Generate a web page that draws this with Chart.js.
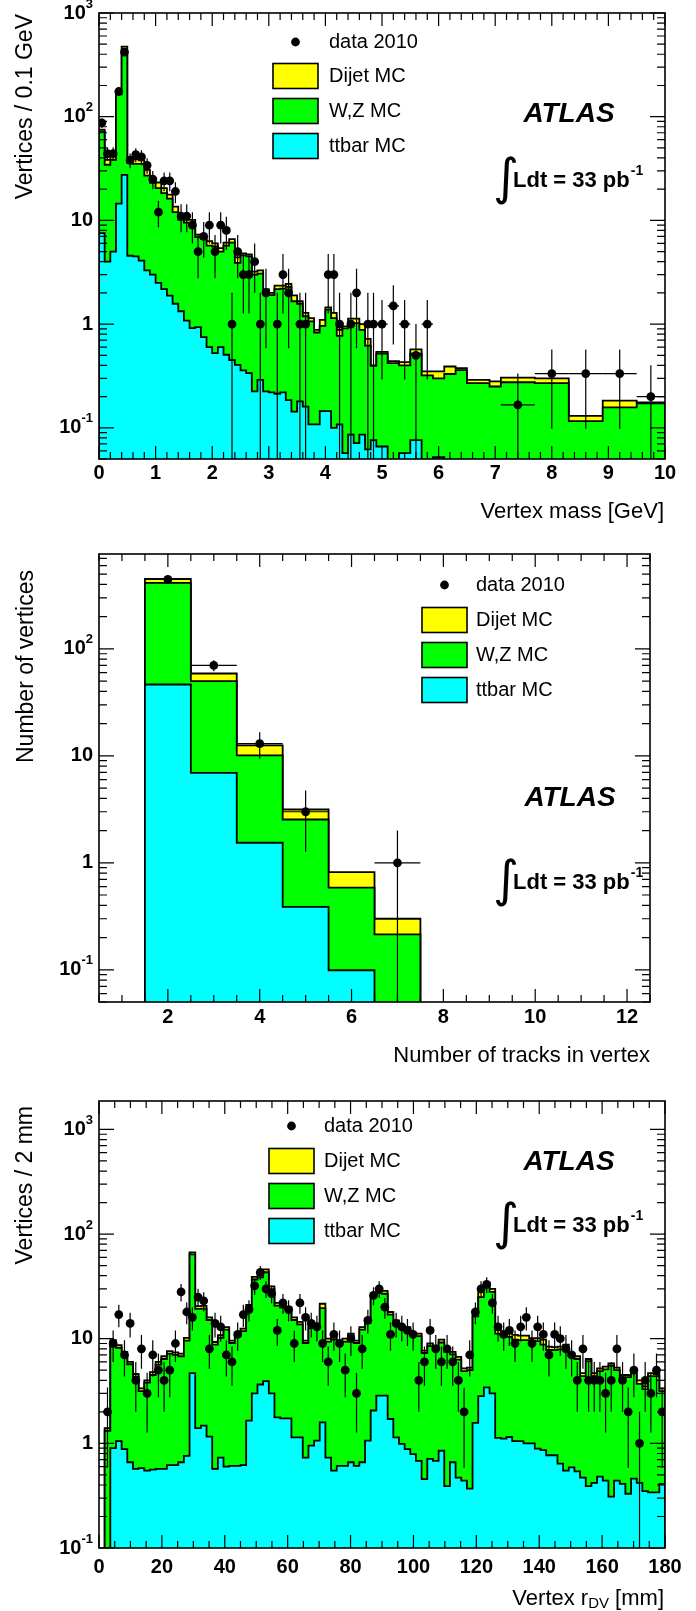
<!DOCTYPE html>
<html>
<head>
<meta charset="utf-8">
<script src="https://cdn.jsdelivr.net/npm/chart.js@4.4.1/dist/chart.umd.min.js"></script>
<style>
  html, body { margin: 0; padding: 0; background: #fff; }
  #page { position: relative; width: 696px; height: 1611px; overflow: hidden; }
  canvas { position: absolute; left: 0; }
</style>
</head>
<body>
<div id="page">
  <canvas id="massChart" width="696" height="540" style="top:0"></canvas>
  <canvas id="trackChart" width="696" height="560" style="top:520px"></canvas>
  <canvas id="rdvChart" width="696" height="531" style="top:1080px"></canvas>
</div>
<script>
// ---------- vertex mass (per 0.1 GeV) ----------
const massEdges = [0, 0.1, 0.2, 0.3, 0.4, 0.5, 0.6, 0.7, 0.8, 0.9,
  1.0, 1.1, 1.2, 1.3, 1.4, 1.5, 1.6, 1.7, 1.8, 1.9,
  2.0, 2.1, 2.2, 2.3, 2.4, 2.5, 2.6, 2.7, 2.8, 2.9,
  3.0, 3.1, 3.2, 3.3, 3.4, 3.5, 3.6, 3.7, 3.8, 3.9,
  4.0, 4.1, 4.2, 4.3, 4.4, 4.5, 4.6, 4.7, 4.8, 4.9,
  5.1, 5.3, 5.5, 5.7, 5.9, 6.1, 6.3, 6.5, 6.9, 7.1, 7.7, 8.3, 8.9, 9.5, 10];
const massTotalMC = [75, 38.3, 42, 172, 475, 39, 39, 38, 30.7, 25.6,
  23.2, 20.5, 17.7, 13.6, 10.5, 10.1, 10.1, 7.3, 7.0, 6.3,
  6.0, 5.4, 6.1, 6.6, 4.4, 4.8, 4.7, 3.2, 3.3, 2.17,
  2.0, 2.35, 2.35, 2.44, 1.89, 1.66, 1.28, 1.14, 0.88, 1.10,
  1.45, 1.28, 0.88, 0.95, 1.13, 1.13, 1.0, 0.72, 0.40,
  0.54, 0.44, 0.43, 0.57, 0.35, 0.35, 0.39, 0.375, 0.29, 0.28, 0.305, 0.30, 0.13, 0.183, 0.176];
const massDijet = [3, 3.9, 3.7, 8, 65, 3.3, 4, 3, 3.7, 2.6,
  2.7, 2.2, 1.5, 1.6, 0.4, 0.6, 0.6, 0.4, 0.4, 0.6,
  0.4, 0.4, 0.4, 0.5, 0.5, 0.2, 0.2, 0.2, 0.24, 0.07,
  0.1, 0.18, 0.15, 0.16, 0.23, 0.09, 0.09, 0.08, 0.05, 0.14,
  0.07, 0.14, 0.11, 0.04, 0.11, 0.11, 0.12, 0.1, 0.005,
  0.02, 0.02, 0.03, 0.05, 0.03, 0.05, 0.06, 0.015, 0.02, 0.03, 0.03, 0.03, 0.014, 0.026, 0.004];
const massTtbar = [7.55, 4.0, 5.0, 14.5, 27.5, 4.56, 4.5, 4.1, 3.3, 3.0,
  2.5, 2.17, 1.88, 1.57, 1.33, 1.08, 0.915, 0.935, 0.75, 0.6,
  0.525, 0.6, 0.506, 0.45, 0.405, 0.357, 0.337, 0.224, 0.29, 0.224,
  0.22, 0.213, 0.22, 0.185, 0.143, 0.18, 0.16, 0.108, 0.108, 0.145,
  0.145, 0.1, 0.108, 0.057, 0.086, 0.071, 0.086, 0.062, 0.076,
  0.066, 0, 0.057, 0.076, 0, 0.052, 0, 0, 0, 0, 0, 0, 0, 0, 0];
const massCounts = [87, 44, 44, 175, 420, 38, 43, 41, 34, 25,
  12, 24, 24, 19, 11, 11, 9, 5, 7, 9,
  5, 9, 8, 1, 5, 3, 3, 4, 1, 2,
  0, 1, 3, 2, 0, 1, 1, 0, 0, 0,
  3, 3, 1, 0, 1, 2, 0, 1, 1,
  2, 3, 2, 1, 2, 0, 0, 0, 0, 0, 1, 2, 2, 2, 1];

// ---------- number of tracks ----------
const trackEdges = [1.5, 2.5, 3.5, 4.5, 5.5, 6.5, 7.5];
const trackTotalMC = [451, 58.8, 12.5, 3.15, 0.82, 0.30];
const trackDijet = [37, 8.9, 2.4, 0.61, 0.235, 0.086];
const trackTtbar = [46.4, 6.93, 1.54, 0.388, 0.099, 0];
const trackCounts = [445, 70, 13, 3, 0, 1];

// ---------- vertex r_DV (100 bins, 0-180 mm) ----------
const rdvBinWidth = 1.8;
const rdvTotalMC = [0, 1.4, 9.7, 8.7, 7.5, 6.0, 4.6, 3.35, 4.0, 4.8,
  6.0, 6.8, 7.6, 7.4, 7.2, 10.2, 67, 20.5, 20.6, 16,
  9.3, 10.8, 12.9, 9.6, 11.3, 12.5, 21, 39, 41, 46,
  31.6, 22, 21, 20, 16, 14.5, 9.6, 13.4, 14, 21.6,
  10, 10.4, 9.6, 10, 11.2, 9.6, 12.9, 15, 27, 29,
  28.6, 18, 15, 13.4, 12.9, 11.2, 11.2, 7.7, 9, 8.6,
  9.8, 8, 7.5, 6.7, 5.2, 5.3, 18.8, 30, 34.3, 30,
  13.6, 11.7, 11.3, 10.9, 10.7, 10.7, 10.1, 10.1, 9.8, 8.4,
  8.3, 8.4, 8.8, 7.3, 6.8, 4.7, 6.4, 4.7, 5.2, 5.4,
  5.8, 5.3, 4.5, 4.5, 5.2, 4.0, 3.5, 4.7, 4.6, 3.35];
const rdvDijet = [0, 0.08, 0.5, 0.5, 0.4, 0.3, 0.25, 0.2, 0.2, 0.3,
  0.35, 0.4, 0.4, 0.4, 0.4, 0.6, 3, 1.2, 1.2, 0.9,
  0.5, 0.6, 0.7, 0.5, 0.6, 0.7, 1.2, 2.2, 2.4, 2.8,
  1.8, 1.3, 1.2, 1.1, 0.9, 0.8, 0.5, 0.8, 0.8, 2.0,
  0.6, 0.6, 0.5, 0.6, 0.6, 0.5, 0.7, 0.9, 1.6, 1.7,
  1.7, 1.0, 0.9, 0.8, 0.7, 0.6, 0.6, 0.4, 0.5, 0.5,
  0.6, 0.5, 0.4, 0.4, 0.3, 0.3, 2.4, 5, 2.5, 2,
  2.4, 1.2, 0.9, 1.1, 1.0, 1.0, 0.5, 0.6, 1.0, 0.6,
  0.5, 0.5, 0.6, 0.4, 0.4, 0.3, 0.3, 0.3, 0.3, 0.3,
  0.3, 0.3, 0.25, 0.2, 0.3, 0.3, 0.2, 0.3, 0.2, 0.2];
const rdvTtbar = [0, 0.1, 0.9, 1.05, 0.88, 0.66, 0.57, 0.58, 0.55, 0.56,
  0.57, 0.57, 0.62, 0.62, 0.66, 0.76, 4.7, 1.4, 1.48, 1.16,
  0.57, 0.73, 0.6, 0.61, 0.61, 0.62, 1.65, 3.0, 3.65, 3.93,
  3.0, 1.77, 1.73, 1.73, 1.14, 1.14, 0.73, 0.95, 1.06, 1.59,
  0.73, 0.55, 0.61, 0.61, 0.66, 0.61, 0.66, 1.06, 2.06, 2.86,
  2.86, 1.71, 1.14, 0.99, 0.88, 0.79, 0.68, 0.455, 0.71, 0.68,
  0.85, 0.39, 0.66, 0.47, 0.44, 0.37, 1.57, 2.83, 3.43, 3.0,
  1.13, 1.11, 1.15, 1.05, 1.05, 1.0, 1.0, 0.89, 0.86, 0.77,
  0.77, 0.64, 0.55, 0.59, 0.54, 0.47, 0.39, 0.42, 0.48, 0.44,
  0.31, 0.44, 0.41, 0.33, 0.46, 0.42, 0.35, 0.34, 0.34, 0.41];
const rdvCounts = [0, 2, 9, 17, 7, 14, 4, 8, 3, 7,
  5, 4, 5, 9, 28, 18, 16, 25, 23, 8,
  14, 13, 7, 6, 11, 17, 19, 32, 43, 30,
  27, 12, 22, 19, 9, 22, 16, 14, 13, 9,
  6, 11, 9, 5, 10, 3, 8, 15, 26, 30,
  20, 11, 14, 13, 12, 11, 4, 6, 12, 8,
  6, 8, 6, 4, 2, 7, 18, 30, 33, 22,
  13, 11, 12, 9, 13, 16, 9, 13, 11, 7,
  11, 10, 8, 7, 4, 8, 4, 4, 4, 3,
  4, 8, 4, 2, 5, 1, 4, 3, 5, 2];
const rdvEdges = rdvTotalMC.map((v, i) => i * rdvBinWidth).concat([180]);

// ---------- helpers ----------
const FONT = '"Liberation Sans", Helvetica, Arial, sans-serif';
const FLOOR = 1e-4;

function steps(edges, vals) {
  const n = vals.length;
  const pts = [{ x: edges[0], y: FLOOR }];
  for (let i = 0; i < n; i++) pts.push({ x: edges[i], y: vals[i] > 0 ? vals[i] : FLOOR });
  pts.push({ x: edges[n], y: vals[n - 1] > 0 ? vals[n - 1] : FLOOR });
  pts.push({ x: edges[n], y: FLOOR });
  return pts;
}

function histSet(edges, vals, color, order) {
  return {
    type: 'line', data: steps(edges, vals), stepped: 'before',
    borderColor: '#000', borderWidth: 1.8, backgroundColor: color,
    fill: 'start', pointRadius: 0, order: order
  };
}

function dataSet(edges, counts, perWidth) {
  const pts = [], err = [], xh = [];
  counts.forEach((n, i) => {
    if (n <= 0) return;
    const w = edges[i + 1] - edges[i];
    const f = perWidth ? perWidth / w : 1;
    pts.push({ x: (edges[i] + edges[i + 1]) / 2, y: n * f });
    err.push(Math.sqrt(n) * f);
    xh.push(w / 2);
  });
  return {
    type: 'line', showLine: false, data: pts, yErr: err, xHalf: xh,
    pointRadius: 4.4, pointBackgroundColor: '#000', pointBorderWidth: 0, order: 0
  };
}

function drawPow(ctx, v, xr, y) {
  const e = Math.round(Math.log10(v));
  ctx.fillStyle = '#000';
  ctx.textAlign = 'right';
  ctx.textBaseline = 'middle';
  if (e === 0 || e === 1) {
    ctx.font = 'bold 20px ' + FONT;
    ctx.fillText(e === 0 ? '1' : '10', xr, y);
    return;
  }
  ctx.font = 'bold 13px ' + FONT;
  const sup = String(e);
  const ws = ctx.measureText(sup).width;
  ctx.fillText(sup, xr, y - 9);
  ctx.font = 'bold 20px ' + FONT;
  ctx.fillText('10', xr - ws, y);
}

function rootStyle(cfg) {
  return {
    id: 'rootStyle',
    beforeDatasetDraw(chart, args) {
      const ds = chart.data.datasets[args.index];
      if (!ds.yErr) return;
      const { ctx, chartArea: a } = chart;
      const x = chart.scales.x, y = chart.scales.y;
      ctx.save();
      ctx.beginPath();
      ctx.rect(a.left, a.top, a.right - a.left, a.bottom - a.top);
      ctx.clip();
      ctx.strokeStyle = '#000';
      ctx.lineWidth = 1.2;
      ds.data.forEach((p, i) => {
        const px = x.getPixelForValue(p.x), py = y.getPixelForValue(p.y);
        const lo = p.y - ds.yErr[i];
        const yLo = lo > 0 ? y.getPixelForValue(lo) : a.bottom;
        const yHi = y.getPixelForValue(p.y + ds.yErr[i]);
        ctx.beginPath();
        ctx.moveTo(px, yLo); ctx.lineTo(px, yHi);
        ctx.moveTo(x.getPixelForValue(p.x - ds.xHalf[i]), py);
        ctx.lineTo(x.getPixelForValue(p.x + ds.xHalf[i]), py);
        ctx.stroke();
      });
      ctx.restore();
    },
    afterDraw(chart) {
      const { ctx, chartArea: a } = chart;
      const x = chart.scales.x, y = chart.scales.y;
      ctx.save();
      ctx.strokeStyle = '#000';
      ctx.fillStyle = '#000';

      // frame
      ctx.lineWidth = 1.6;
      ctx.strokeRect(a.left, a.top, a.right - a.left, a.bottom - a.top);

      // y ticks (log), mirrored on the right
      ctx.lineWidth = 1.2;
      const d0 = Math.floor(Math.log10(y.min)), d1 = Math.ceil(Math.log10(y.max));
      for (let d = d0; d <= d1; d++) {
        for (let m = 1; m <= 9; m++) {
          const v = m * Math.pow(10, d);
          if (v < y.min * 0.999 || v > y.max * 1.001) continue;
          const py = y.getPixelForValue(v);
          const len = m === 1 ? 15 : 8;
          ctx.beginPath();
          ctx.moveTo(a.left, py); ctx.lineTo(a.left + len, py);
          ctx.moveTo(a.right, py); ctx.lineTo(a.right - len, py);
          ctx.stroke();
          if (m === 1) drawPow(ctx, v, a.left - 6, py);
        }
      }

      // x ticks, mirrored on top
      const nStep = Math.round((x.max - x.min) / cfg.xMinor);
      for (let k = 0; k <= nStep; k++) {
        const v = x.min + k * cfg.xMinor;
        const r = v / cfg.xMajor;
        const major = Math.abs(r - Math.round(r)) < 1e-6;
        const px = x.getPixelForValue(v);
        const len = major ? 13 : 7;
        ctx.beginPath();
        ctx.moveTo(px, a.bottom); ctx.lineTo(px, a.bottom - len);
        ctx.moveTo(px, a.top); ctx.lineTo(px, a.top + len);
        ctx.stroke();
        if (major) {
          ctx.font = 'bold 20px ' + FONT;
          ctx.textAlign = 'center';
          ctx.textBaseline = 'middle';
          ctx.fillText(String(Math.round(v)), px, cfg.labelY);
        }
      }

      // axis titles
      ctx.textBaseline = 'middle';
      ctx.textAlign = 'right';
      let xr = cfg.xTitle.right;
      for (let i = cfg.xTitle.parts.length - 1; i >= 0; i--) {
        const part = cfg.xTitle.parts[i];
        ctx.font = (part.sub ? '15px ' : '22px ') + FONT;
        ctx.fillText(part.t, xr, cfg.xTitle.y + (part.sub ? 5 : 0));
        xr -= ctx.measureText(part.t).width;
      }
      ctx.save();
      ctx.translate(cfg.yTitle.x, cfg.yTitle.top);
      ctx.rotate(-Math.PI / 2);
      ctx.font = '23px ' + FONT;
      ctx.textAlign = 'right';
      ctx.textBaseline = 'middle';
      ctx.fillText(cfg.yTitle.t, 0, 0);
      ctx.restore();

      // legend
      const L = cfg.legend;
      ctx.beginPath();
      ctx.arc(L.boxX + L.boxW / 2, L.rows[0], 4.4, 0, Math.PI * 2);
      ctx.fill();
      const entries = [['Dijet MC', '#ffff00'], ['W,Z MC', '#00ff00'], ['ttbar MC', '#00ffff']];
      ctx.font = '20px ' + FONT;
      ctx.textAlign = 'left';
      ctx.textBaseline = 'middle';
      ctx.fillText('data 2010', L.textX, L.rows[0]);
      entries.forEach((e, i) => {
        const cy = L.rows[i + 1];
        ctx.fillStyle = e[1];
        ctx.fillRect(L.boxX, cy - 12.5, L.boxW, 25);
        ctx.lineWidth = 1.6;
        ctx.strokeRect(L.boxX, cy - 12.5, L.boxW, 25);
        ctx.fillStyle = '#000';
        ctx.fillText(e[0], L.textX, cy);
      });

      // ATLAS label and luminosity
      ctx.font = 'italic bold 28px ' + FONT;
      ctx.textAlign = 'center';
      ctx.fillText('ATLAS', cfg.atlas.x, cfg.atlas.y);
      const lx = cfg.lumi.x, ly = cfg.lumi.y;
      ctx.textAlign = 'left';
      ctx.textBaseline = 'alphabetic';
      ctx.font = '50px "DejaVu Sans", sans-serif';
      ctx.fillText('\u222B', lx - 5, ly + 7);
      ctx.font = 'bold 22px ' + FONT;
      ctx.fillText('Ldt = 33 pb', lx + 15, ly);
      const w = ctx.measureText('Ldt = 33 pb').width;
      ctx.font = 'bold 14px ' + FONT;
      ctx.fillText('-1', lx + 16 + w, ly - 12);
      ctx.restore();
    }
  };
}

function makeChart(id, edges, total, dijet, ttbar, counts, perWidth, xr, yr, pad, cfg) {
  const wzTop = total.map((t, i) => t - dijet[i]);
  return new Chart(document.getElementById(id), {
    type: 'line',
    data: {
      datasets: [
        dataSet(edges, counts, perWidth),
        histSet(edges, ttbar, '#00ffff', 1),
        histSet(edges, wzTop, '#00ff00', 2),
        histSet(edges, total, '#ffff00', 3)
      ]
    },
    options: {
      responsive: false,
      animation: false,
      events: [],
      layout: { padding: pad },
      scales: {
        x: { type: 'linear', min: xr[0], max: xr[1], display: false },
        y: { type: 'logarithmic', min: yr[0], max: yr[1], display: false }
      },
      plugins: { legend: { display: false }, tooltip: { enabled: false } }
    },
    plugins: [rootStyle(cfg)]
  });
}

// canvas at page y = 0
makeChart('massChart', massEdges, massTotalMC, massDijet, massTtbar, massCounts, 0.1,
  [0, 10], [0.05, 1000], { left: 99, right: 31, top: 13, bottom: 81 }, {
    xMinor: 0.2, xMajor: 1, labelY: 473,
    xTitle: { right: 664, y: 512, parts: [{ t: 'Vertex mass [GeV]' }] },
    yTitle: { x: 26, top: 14, t: 'Vertices / 0.1 GeV' },
    legend: { boxX: 273, boxW: 45, textX: 329, rows: [42, 76, 111, 146] },
    atlas: { x: 569, y: 114 },
    lumi: { x: 498, y: 187 }
  });

// canvas at page y = 520
makeChart('trackChart', trackEdges, trackTotalMC, trackDijet, trackTtbar, trackCounts, 0,
  [0.5, 12.5], [0.05, 770], { left: 99, right: 46, top: 34, bottom: 78 }, {
    xMinor: 0.5, xMajor: 2, labelY: 497,
    xTitle: { right: 650, y: 536, parts: [{ t: 'Number of tracks in vertex' }] },
    yTitle: { x: 27, top: 50, t: 'Number of vertices' },
    legend: { boxX: 422, boxW: 45, textX: 476, rows: [65, 100, 135, 170] },
    atlas: { x: 570, y: 278 },
    lumi: { x: 498, y: 369 }
  });

// canvas at page y = 1080
makeChart('rdvChart', rdvEdges, rdvTotalMC, rdvDijet, rdvTtbar, rdvCounts, 0,
  [0, 180], [0.1, 1870], { left: 99, right: 31, top: 21, bottom: 63 }, {
    xMinor: 5, xMajor: 20, labelY: 487,
    xTitle: { right: 664, y: 519, parts: [{ t: 'Vertex r' }, { t: 'DV', sub: true }, { t: ' [mm]' }] },
    yTitle: { x: 26, top: 26, t: 'Vertices / 2 mm' },
    legend: { boxX: 269, boxW: 45, textX: 324, rows: [46, 81, 116, 151] },
    atlas: { x: 569, y: 82 },
    lumi: { x: 498, y: 152 }
  });
</script>
</body>
</html>
